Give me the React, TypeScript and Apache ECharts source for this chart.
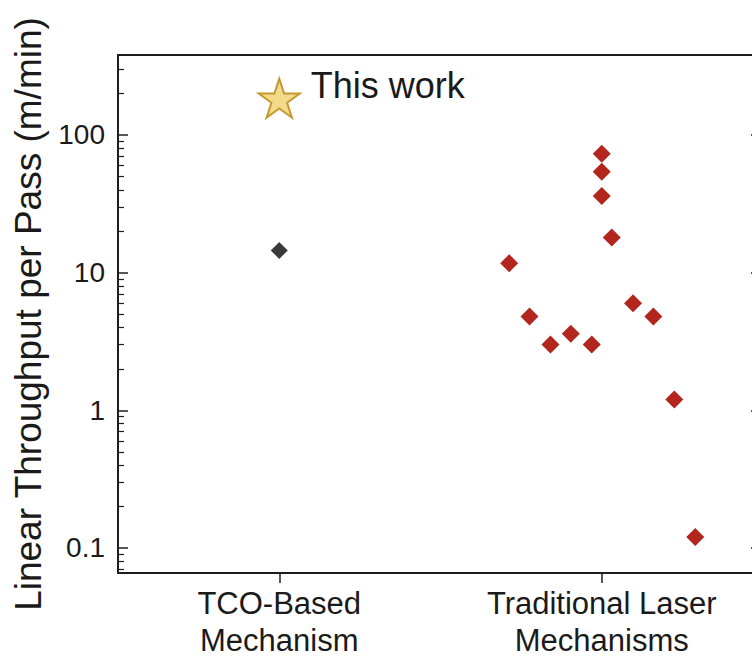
import React, { useEffect, useRef } from "react";
import * as echarts from "echarts";

// ---- data ----
const categories = ["TCO-Based\nMechanism", "Traditional Laser\nMechanisms"];
const categoryPositions = [0, 1];
const yMajorTicks = [0.1, 1, 10, 100];
const yMinorTicks = [
  0.07, 0.08, 0.09,
  0.2, 0.3, 0.4, 0.5, 0.6, 0.7, 0.8, 0.9,
  2, 3, 4, 5, 6, 7, 8, 9,
  20, 30, 40, 50, 60, 70, 80, 90,
  200, 300,
];
const thisWorkX = [0];
const thisWorkY = [185];
const tcoX = [0];
const tcoY = [14.5];
const laserX = [0.713, 0.776, 0.841, 0.904, 0.969, 1.0, 1.0, 1.0, 1.031, 1.097, 1.16, 1.225, 1.29];
const laserY = [11.7, 4.8, 3.0, 3.6, 3.0, 73, 54, 36, 18, 6.0, 4.8, 1.2, 0.12];
const yTitle = "Linear Throughput per Pass (m/min)";
const starLabel = "This work";

const FONT = "'Liberation Sans', Arial, Helvetica, sans-serif";
const AXIS_COLOR = "#1e1e1e";
const TEXT_COLOR = "#1a1a1a";
const STAR_PATH =
  "path://M50 0 L61.23 34.55 L97.55 34.55 L68.17 55.9 L79.39 90.45 L50 69.1 L20.61 90.45 L31.83 55.9 L2.45 34.55 L38.77 34.55 Z";

const Y_MIN = 0.0658;
const Y_MAX = 381;

export default function App() {
  const ref = useRef<HTMLDivElement>(null);

  useEffect(() => {
    if (!ref.current) return;
    const chart = echarts.init(ref.current, undefined, { renderer: "svg" });
    const gridBox = {
      left: 118,
      width: 645,
      top: 55,
      bottom: 85,
      containLabel: false,
      outerBoundsMode: "none",
    };
    const axisLine = { show: true, onZero: false, lineStyle: { color: AXIS_COLOR, width: 2 } };
    const fmtY = (v: any) => {
      const n = Number(v);
      return n < 1 ? n.toFixed(1) : String(Math.round(n));
    };

    const option: any = {
      animation: false,
      backgroundColor: "#ffffff",
      grid: [{ ...gridBox }, { ...gridBox }],
      xAxis: [
        {
          gridIndex: 0,
          type: "value",
          min: -0.5,
          max: 1.5,
          position: "bottom",
          axisLine,
          axisTick: {
            show: true,
            inside: false,
            length: 10,
            customValues: categoryPositions,
            lineStyle: { color: AXIS_COLOR, width: 1.5 },
          },
          axisLabel: {
            customValues: categoryPositions,
            formatter: (v: any) => categories[Math.round(Number(v))] ?? "",
            fontSize: 31,
            lineHeight: 37,
            color: TEXT_COLOR,
            fontFamily: FONT,
            margin: 12,
          },
          splitLine: { show: false },
        },
        {
          gridIndex: 0,
          type: "value",
          min: -0.5,
          max: 1.5,
          position: "top",
          axisLine,
          axisTick: { show: false },
          axisLabel: { show: false },
          splitLine: { show: false },
        },
        {
          gridIndex: 1,
          type: "value",
          min: -0.5,
          max: 1.5,
          show: false,
        },
      ],
      yAxis: [
        {
          gridIndex: 0,
          type: "log",
          logBase: 10,
          min: Y_MIN,
          max: Y_MAX,
          position: "left",
          axisLine,
          axisTick: {
            show: true,
            inside: true,
            length: 10,
            customValues: yMajorTicks,
            lineStyle: { color: AXIS_COLOR, width: 1.5 },
          },
          axisLabel: {
            customValues: yMajorTicks,
            formatter: fmtY,
            fontSize: 28,
            color: TEXT_COLOR,
            fontFamily: FONT,
            margin: 13,
          },
          splitLine: { show: false },
          name: yTitle,
          nameLocation: "middle",
          nameGap: 67,
          nameTextStyle: { fontSize: 37, color: TEXT_COLOR, fontFamily: FONT },
        },
        {
          gridIndex: 0,
          type: "log",
          logBase: 10,
          min: Y_MIN,
          max: Y_MAX,
          position: "right",
          axisLine,
          axisTick: {
            show: true,
            inside: true,
            length: 12,
            customValues: yMajorTicks,
            lineStyle: { color: AXIS_COLOR, width: 1.5 },
          },
          axisLabel: { show: false },
          splitLine: { show: false },
        },
        {
          gridIndex: 1,
          type: "log",
          logBase: 10,
          min: Y_MIN,
          max: Y_MAX,
          position: "left",
          axisLine: { show: false, onZero: false },
          axisTick: {
            show: true,
            inside: true,
            length: 6,
            customValues: yMinorTicks,
            lineStyle: { color: AXIS_COLOR, width: 1.2 },
          },
          axisLabel: { show: false },
          splitLine: { show: false },
        },
        {
          gridIndex: 1,
          type: "log",
          logBase: 10,
          min: Y_MIN,
          max: Y_MAX,
          position: "right",
          axisLine: { show: false, onZero: false },
          axisTick: {
            show: true,
            inside: true,
            length: 6,
            customValues: yMinorTicks,
            lineStyle: { color: AXIS_COLOR, width: 1.2 },
          },
          axisLabel: { show: false },
          splitLine: { show: false },
        },
      ],
      series: [
        {
          name: "Traditional Laser Mechanisms",
          type: "scatter",
          xAxisIndex: 0,
          yAxisIndex: 0,
          symbol: "diamond",
          symbolSize: 18,
          itemStyle: { color: "#b3261e", opacity: 1 },
          data: laserX.map((x, i) => [x, laserY[i]]),
        },
        {
          name: "TCO-Based Mechanism",
          type: "scatter",
          xAxisIndex: 0,
          yAxisIndex: 0,
          symbol: "diamond",
          symbolSize: 17,
          itemStyle: { color: "#3a3a3a", opacity: 1 },
          data: tcoX.map((x, i) => [x, tcoY[i]]),
        },
        {
          name: starLabel,
          type: "scatter",
          xAxisIndex: 0,
          yAxisIndex: 0,
          symbol: STAR_PATH,
          symbolSize: 41,
          symbolKeepAspect: true,
          itemStyle: { color: "#f3d98a", borderColor: "#c49a30", borderWidth: 2, opacity: 1 },
          label: {
            show: true,
            formatter: starLabel,
            position: "right",
            distance: 10,
            offset: [0, -13],
            fontSize: 36,
            color: TEXT_COLOR,
            fontFamily: FONT,
          },
          data: thisWorkX.map((x, i) => [x, thisWorkY[i]]),
        },
      ],
    };
    chart.setOption(option);
    return () => chart.dispose();
  }, []);

  return (
    <div
      ref={ref}
      style={{ position: "absolute", left: 0, top: 0, width: 752, height: 658, overflow: "hidden" }}
    />
  );
}
